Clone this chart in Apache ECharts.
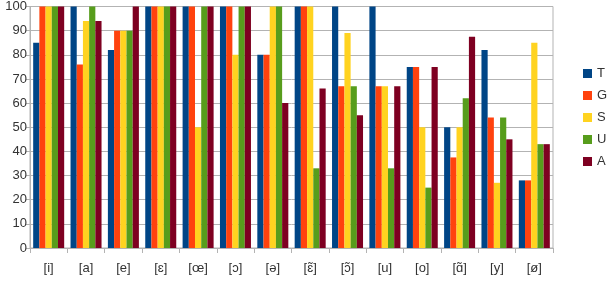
<!DOCTYPE html>
<html><head><meta charset="utf-8">
<script src="https://cdn.jsdelivr.net/npm/echarts@6/dist/echarts.min.js"></script>
<style>html,body{margin:0;padding:0;background:#fff}#c{width:615px;height:291px}</style>
</head><body><div id="c"></div>
<script>
var categories = ['[i]','[a]','[e]','[ɛ]','[œ]','[ɔ]','[ə]','[ɛ̃]','[ɔ̃]','[u]','[o]','[ɑ̃]','[y]','[ø]'];
var seriesNames = ['T','G','S','U','A'];
var T = [85,100,82,100,100,100,80,100,100,100,75,50,82,28];
var G = [100,76,90,100,100,100,80,100,67,67,75,37.5,54,28];
var S = [100,94,90,100,50,80,100,100,89,67,50,50,27,85];
var U = [100,100,90,100,100,100,100,33,67,33,25,62,54,43];
var A = [100,94,100,100,100,100,60,66,55,67,75,87.5,45,43];
var colors = ['#004586','#ff420e','#ffd320','#579d1c','#7e0021'];
var data = [T,G,S,U,A];
var chart = echarts.init(document.getElementById('c'));
chart.setOption({
  animation:false,
  color: colors,
  grid:{left:30,right:62,top:5,bottom:43,containLabel:false,show:true,borderColor:'#b3b3b3',borderWidth:1},
  legend:{orient:'vertical',left:578,top:62,itemWidth:9,itemHeight:9,itemGap:9,icon:'rect',
    textStyle:{fontFamily:'Liberation Sans',fontSize:13,lineHeight:13,color:'#333'},data:seriesNames},
  xAxis:{type:'category',data:categories,
    axisLine:{lineStyle:{color:'#b3b3b3'}},
    axisTick:{show:true,length:5,lineStyle:{color:'#b3b3b3'}},
    axisLabel:{fontFamily:'Liberation Sans',fontSize:13,color:'#333',margin:14}},
  yAxis:{type:'value',min:0,max:100,interval:10,
    axisLine:{show:true,lineStyle:{color:'#b3b3b3'}},
    axisTick:{show:true,length:4,lineStyle:{color:'#b3b3b3'}},
    splitLine:{lineStyle:{color:'#b3b3b3'}},
    axisLabel:{fontFamily:'Liberation Sans',fontSize:13,color:'#333',margin:3}},
  series: seriesNames.map(function(n,i){return {name:n,type:'bar',data:data[i],barGap:'0%',barCategoryGap:'17%'};})
});
</script></body></html>
